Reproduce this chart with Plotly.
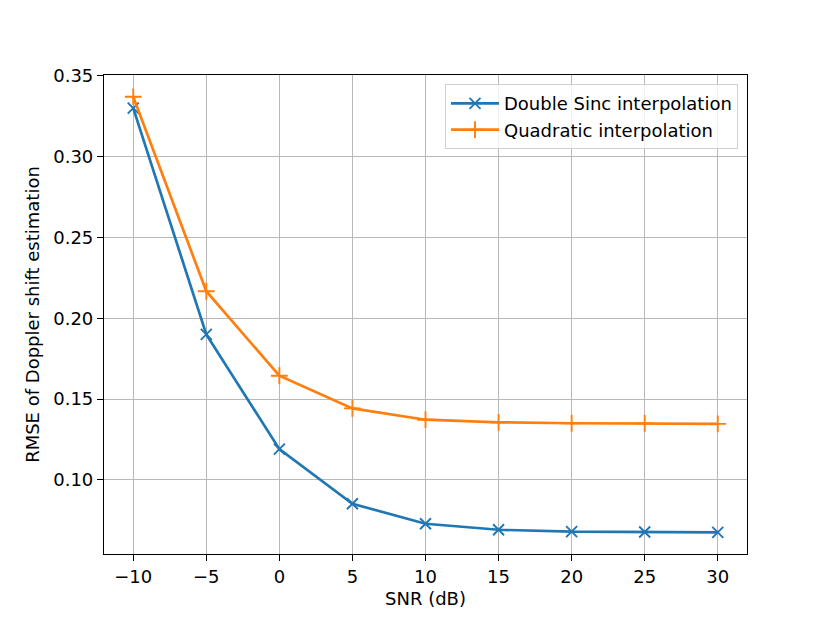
import plotly.graph_objects as go

snr = [-10, -5, 0, 5, 10, 15, 20, 25, 30]
rmse_sinc = [0.330, 0.190, 0.119, 0.0852, 0.0728, 0.0691, 0.0679, 0.0677, 0.0675]
rmse_quad = [0.337, 0.2167, 0.1644, 0.1442, 0.1372, 0.1356, 0.1350, 0.1349, 0.1346]

font = dict(family='DejaVu Sans', size=18, color='black')

fig = go.Figure()
fig.add_trace(go.Scatter(
    x=snr, y=rmse_sinc, mode='lines+markers', name='Double Sinc interpolation',
    line=dict(color='#1f77b4', width=2.7),
    marker=dict(symbol='x-thin', size=11, line=dict(color='#1f77b4', width=1.9))))
fig.add_trace(go.Scatter(
    x=snr, y=rmse_quad, mode='lines+markers', name='Quadratic interpolation',
    line=dict(color='#ff7f0e', width=2.7),
    marker=dict(symbol='cross-thin', size=12, line=dict(color='#ff7f0e', width=1.9))))

axis_style = dict(showline=True, linecolor='black', linewidth=1.2, mirror=True,
                  showgrid=True, gridcolor='#b8b8b8', gridwidth=1.2,
                  ticks='outside', ticklen=6, tickwidth=1.2, tickcolor='black',
                  zeroline=False, tickfont=font)

# page body adds an 8px offset, so margins are shifted to compensate
fig.update_layout(
    width=830, height=623,
    margin=dict(l=96, r=91, t=67, b=77),
    plot_bgcolor='white', paper_bgcolor='white',
    font=font,
    xaxis=dict(axis_style, range=[-12, 32], dtick=5, tick0=0,
               title=dict(text='SNR (dB)', font=font, standoff=6)),
    yaxis=dict(axis_style, range=[0.0541, 0.3505], dtick=0.05, tick0=0,
               tickformat='.2f',
               title=dict(text='RMSE of Doppler shift estimation', font=font, standoff=8)),
    legend=dict(x=0.986, y=0.981, xanchor='right', yanchor='top',
                bgcolor='rgba(255,255,255,0.8)', bordercolor='#d0d0d0', borderwidth=1,
                font=font, itemwidth=48),
    showlegend=True,
)

fig.write_html('out.html')
